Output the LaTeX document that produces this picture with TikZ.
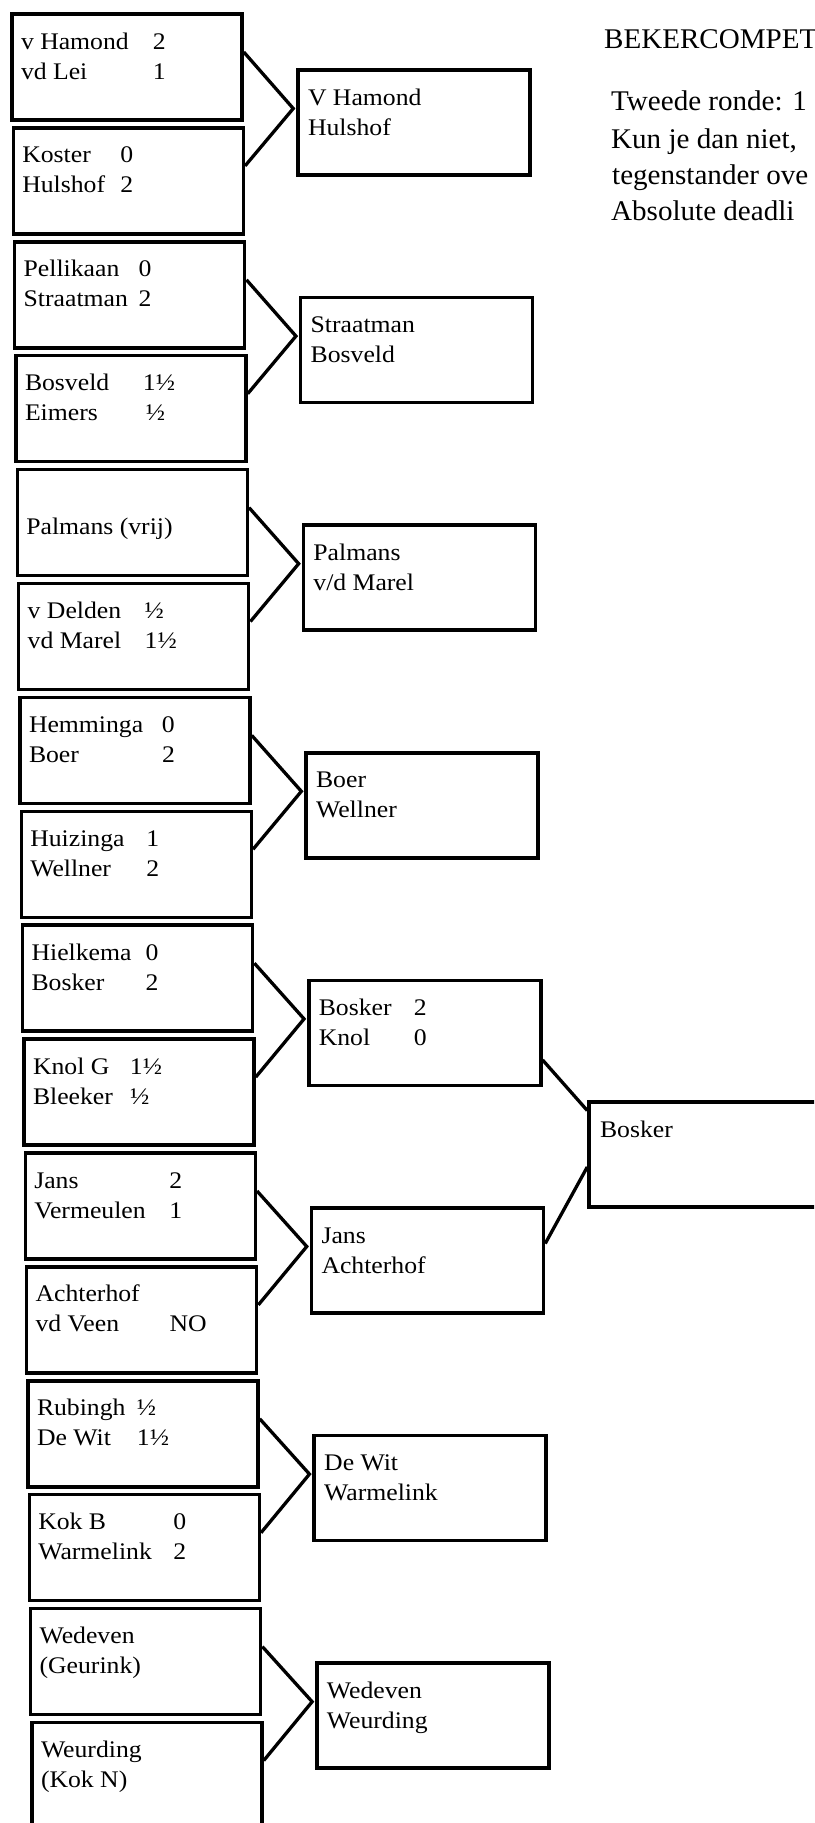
\documentclass[tikz,border=0pt]{standalone}
\usepackage{fontspec}
\setmainfont{Liberation Serif}[FakeStretch=1.08]
\newfontfamily\notefont{Liberation Serif}[FakeStretch=1.02]
\usetikzlibrary{calc}

% box contents: fixed-height parbox, first baseline 35pt below the top
\newcommand\cell[3]{\parbox[c][#2pt][t]{#1pt}{\raggedright\rule{0pt}{35pt}#3}}
\newcommand\pscore[3]{\makebox[#1pt][l]{#2}#3}

\begin{document}
\begin{tikzpicture}[x=1pt, y=-1pt,
   player/.style={draw, line width=3.5pt, inner sep=0pt, minimum width=230pt,
      font=\fontsize{23.8}{30}\selectfont},
   pairing/.style={player, minimum width=232pt},
   link/.style={line width=3.3pt},
   note/.style={anchor=base west, inner sep=0pt, font=\notefont\fontsize{28.5}{37}\selectfont}]
   \useasboundingbox (0,0) rectangle (814,1823);
   \clip (0,0) rectangle (814,1823);

   % first round
   \node[player] (p1) at (127,67) {\cell{212}{106}{\pscore{132}{v Hamond}{2}\\\pscore{132}{vd Lei}{1}}};
   \node[player] (p2) at (128.3,180.9) {\cell{212}{106}{\pscore{98}{Koster}{0}\\\pscore{98}{Hulshof}{2}}};
   \node[player] (p3) at (129.7,294.8) {\cell{212}{106}{\pscore{115}{Pellikaan}{0}\\\pscore{115}{Straatman}{2}}};
   \node[player] (p4) at (131,408.7) {\cell{212}{106}{\pscore{118}{Bosveld}{1½}\\\pscore{121}{Eimers}{½}}};
   \node[player] (p5) at (132.3,522.6) {\cell{212}{106}{\\Palmans (vrij)}};
   \node[player] (p6) at (133.7,636.5) {\cell{212}{106}{\pscore{117}{v Delden}{½}\\\pscore{117}{vd Marel}{1½}}};
   \node[player] (p7) at (135,750.4) {\cell{212}{106}{\pscore{133}{Hemminga}{0}\\\pscore{133}{Boer}{2}}};
   \node[player] (p8) at (136.3,864.3) {\cell{212}{106}{\pscore{116}{Huizinga}{1}\\\pscore{116}{Wellner}{2}}};
   \node[player] (p9) at (137.6,978.2) {\cell{212}{106}{\pscore{114}{Hielkema}{0}\\\pscore{114}{Bosker}{2}}};
   \node[player] (p10) at (139,1092.1) {\cell{212}{106}{\pscore{97}{Knol G}{1½}\\\pscore{97}{Bleeker}{½}}};
   \node[player] (p11) at (140.3,1206) {\cell{212}{106}{\pscore{135}{Jans}{2}\\\pscore{135}{Vermeulen}{1}}};
   \node[player] (p12) at (141.6,1319.9) {\cell{212}{106}{Achterhof\\\pscore{134}{vd Veen}{NO}}};
   \node[player] (p13) at (143,1433.8) {\cell{212}{106}{\pscore{100}{Rubingh}{½}\\\pscore{100}{De Wit}{1½}}};
   \node[player] (p14) at (144.3,1547.7) {\cell{212}{106}{\pscore{135}{Kok B}{0}\\\pscore{135}{Warmelink}{2}}};
   \node[player] (p15) at (145.6,1661.6) {\cell{212}{106}{Wedeven\\(Geurink)}};
   \node[player] (p16) at (147,1775.5) {\cell{212}{106}{Weurding\\(Kok N)}};

   % second round
   \node[pairing] (m1) at (414,122.5) {\cell{212}{105}{V Hamond\\Hulshof}};
   \node[pairing] (m2) at (416.7,350.1) {\cell{212}{105}{Straatman\\Bosveld}};
   \node[pairing] (m3) at (419.4,577.7) {\cell{212}{105}{Palmans\\v/d Marel}};
   \node[pairing] (m4) at (422.1,805.3) {\cell{212}{105}{Boer\\Wellner}};
   \node[pairing] (m5) at (424.8,1032.9) {\cell{212}{105}{\pscore{95}{Bosker}{2}\\\pscore{95}{Knol}{0}}};
   \node[pairing] (m6) at (427.5,1260.5) {\cell{212}{105}{Jans\\Achterhof}};
   \node[pairing] (m7) at (430.2,1488.1) {\cell{212}{105}{De Wit\\Warmelink}};
   \node[pairing] (m8) at (432.9,1715.7) {\cell{212}{105}{Wedeven\\Weurding}};

   % third round
   \node[player, minimum width=300pt] (fin) at (739,1154.5) {\cell{278}{105}{Bosker}};

   \foreach \k in {1,...,8} {
      \pgfmathtruncatemacro\a{2*\k-1}
      \pgfmathtruncatemacro\b{2*\k}
      \draw[link] ($(p\a.east)+(0,-15)$) -- ($(m\k.west)+(-3,-14)$) -- ($(p\b.east)+(0,-15)$);
   }
   \draw[link] ($(m5.east)+(0,27)$) -- ($(fin.west)+(0,-44)$);
   \draw[link] ($(m6.east)+(0,-17)$) -- ($(fin.west)+(0,12.5)$);

   \node[note] (t0) at (604,48) {BEKERCOMPET};
   \node[note] (t1) at (611,110) {Tweede ronde: 1};
   \node[note] (t2) at (611,148) {Kun je dan niet,};
   \node[note] (t3) at (612,184) {tegenstander ove};
   \node[note] (t4) at (611,220) {Absolute deadli};
\end{tikzpicture}
\end{document}
